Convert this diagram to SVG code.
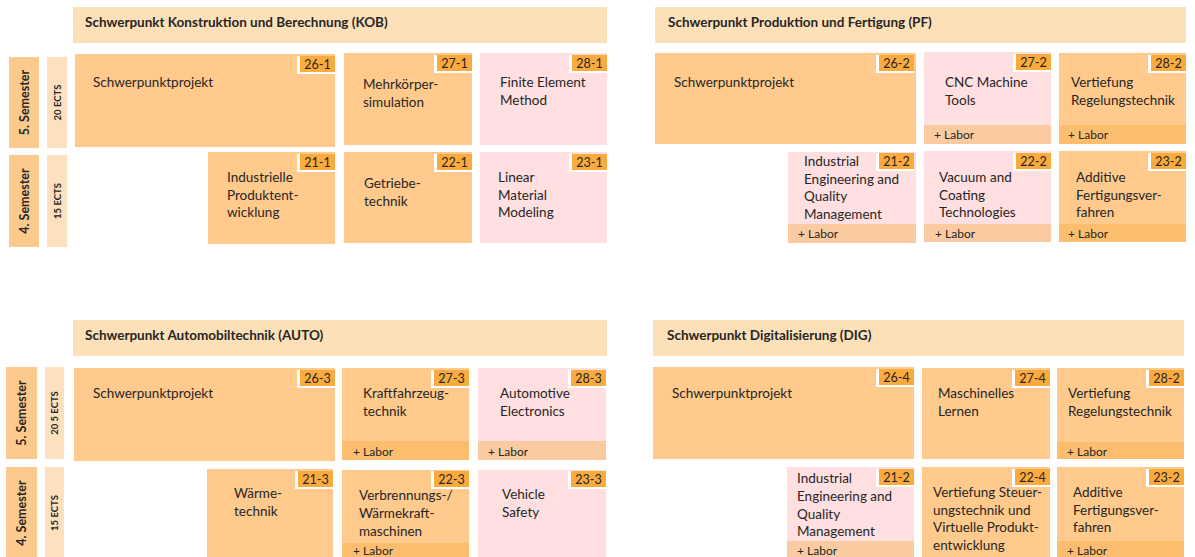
<svg xmlns="http://www.w3.org/2000/svg" width="1195" height="557" viewBox="0 0 1195 557">
<style>
text{font-family:Lato,"Open Sans","Liberation Sans",sans-serif;fill:#262626}
.hd{fill:#FDE0B8}
.hdt{font-size:13.5px;font-weight:bold}
.sem{fill:#FCCA8C}
.ects{fill:#FDE1BE}
.semt{font-size:12.5px;font-weight:bold;text-anchor:middle}
.ectt{font-size:9.5px;font-weight:bold;text-anchor:middle}
.o{fill:#FFCA8C}
.p{fill:#FFDFE0}
.lo{fill:#FCBE6E}
.lp{fill:#FACBA1}
.bw{fill:#FFFFFF}
.bd{fill:#FBAA3E}
.bt{font-size:12.5px;text-anchor:middle}
.t{font-size:13.5px}
.lt{font-size:12px}
</style>

<!-- headers -->
<g id="hdr-kob"><rect class="hd" x="73" y="7" width="534" height="36"/><text class="hdt" x="85" y="27">Schwerpunkt Konstruktion und Berechnung (KOB)</text></g>
<g id="hdr-pf"><rect class="hd" x="655" y="7" width="531" height="36"/><text class="hdt" x="668" y="27">Schwerpunkt Produktion und Fertigung (PF)</text></g>
<g id="hdr-auto"><rect class="hd" x="73" y="320" width="534" height="36"/><text class="hdt" x="85" y="340">Schwerpunkt Automobiltechnik (AUTO)</text></g>
<g id="hdr-dig"><rect class="hd" x="653" y="320" width="531" height="36"/><text class="hdt" x="667" y="340">Schwerpunkt Digitalisierung (DIG)</text></g>

<!-- semester labels -->
<g id="sem5-top"><rect class="sem" x="9" y="57" width="30" height="91"/><text class="semt" transform="translate(28.5,102.5) rotate(-90)">5.  Semester</text></g>
<g id="ects5-top"><rect class="ects" x="47" y="57" width="20" height="91"/><text class="ectt" transform="translate(60.5,102.5) rotate(-90)">20 ECTS</text></g>
<g id="sem4-top"><rect class="sem" x="9" y="155" width="30" height="92"/><text class="semt" transform="translate(28.5,201) rotate(-90)">4. Semester</text></g>
<g id="ects4-top"><rect class="ects" x="47" y="155" width="20" height="92"/><text class="ectt" transform="translate(60.5,201) rotate(-90)">15 ECTS</text></g>
<g id="sem5-bot"><rect class="sem" x="6" y="367" width="31" height="92"/><text class="semt" transform="translate(26,413) rotate(-90)">5.  Semester</text></g>
<g id="ects5-bot"><rect class="ects" x="45" y="367" width="19" height="92"/><text class="ectt" transform="translate(58,413) rotate(-90)">20 5 ECTS</text></g>
<g id="sem4-bot"><rect class="sem" x="6" y="467" width="31" height="92"/><text class="semt" transform="translate(26,513) rotate(-90)">4. Semester</text></g>
<g id="ects4-bot"><rect class="ects" x="45" y="467" width="19" height="92"/><text class="ectt" transform="translate(58,513) rotate(-90)">15  ECTS</text></g>

<!-- KOB -->
<g id="m26-1"><rect class="o" x="75" y="54" width="260" height="93"/><rect class="bw" x="297" y="56" width="38" height="18"/><rect class="bd" x="300" y="56" width="35" height="16"/><text class="bt" x="317.5" y="69">26-1</text><text class="t" x="93" y="87">Schwerpunktprojekt</text></g>
<g id="m27-1"><rect class="o" x="344" y="53" width="128" height="92"/><rect class="bw" x="434" y="55" width="38" height="18"/><rect class="bd" x="437" y="55" width="35" height="16"/><text class="bt" x="454.5" y="68">27-1</text><text class="t" x="363" y="89">Mehrkörper-</text><text class="t" x="363" y="107">simulation</text></g>
<g id="m28-1"><rect class="p" x="480" y="53" width="127" height="92"/><rect class="bw" x="569" y="55" width="38" height="18"/><rect class="bd" x="572" y="55" width="35" height="16"/><text class="bt" x="589.5" y="68">28-1</text><text class="t" x="500" y="87">Finite Element</text><text class="t" x="500" y="105">Method</text></g>
<g id="m21-1"><rect class="o" x="208" y="152" width="127" height="92"/><rect class="bw" x="297" y="154" width="38" height="18"/><rect class="bd" x="300" y="154" width="35" height="16"/><text class="bt" x="317.5" y="167">21-1</text><text class="t" x="227" y="182">Industrielle</text><text class="t" x="227" y="199.5">Produktent-</text><text class="t" x="227" y="217">wicklung</text></g>
<g id="m22-1"><rect class="o" x="344" y="152" width="128" height="91"/><rect class="bw" x="434" y="154" width="38" height="18"/><rect class="bd" x="437" y="154" width="35" height="16"/><text class="bt" x="454.5" y="167">22-1</text><text class="t" x="364" y="188">Getriebe-</text><text class="t" x="364" y="205.5">technik</text></g>
<g id="m23-1"><rect class="p" x="480" y="152" width="127" height="91"/><rect class="bw" x="569" y="154" width="38" height="18"/><rect class="bd" x="572" y="154" width="35" height="16"/><text class="bt" x="589.5" y="167">23-1</text><text class="t" x="498" y="182">Linear</text><text class="t" x="498" y="199.5">Material</text><text class="t" x="498" y="217">Modeling</text></g>

<!-- PF -->
<g id="m26-2"><rect class="o" x="655" y="53" width="261" height="91"/><rect class="bw" x="876" y="55" width="38" height="18"/><rect class="bd" x="879" y="55" width="35" height="16"/><text class="bt" x="896.5" y="68">26-2</text><text class="t" x="674" y="87">Schwerpunktprojekt</text></g>
<g id="m27-2"><rect class="p" x="924" y="52" width="127" height="92"/><rect class="lp" x="924" y="125" width="127" height="19"/><rect class="bw" x="1013" y="54" width="38" height="18"/><rect class="bd" x="1016" y="54" width="35" height="16"/><text class="bt" x="1033.5" y="67">27-2</text><text class="t" x="945" y="87">CNC Machine</text><text class="t" x="945" y="105">Tools</text><text class="lt" x="934" y="139">+ Labor</text></g>
<g id="m28-2a"><rect class="o" x="1059" y="53" width="127" height="91"/><rect class="lo" x="1059" y="125" width="127" height="19"/><rect class="bw" x="1148" y="55" width="38" height="18"/><rect class="bd" x="1151" y="55" width="35" height="16"/><text class="bt" x="1168.5" y="68">28-2</text><text class="t" x="1071" y="87">Vertiefung</text><text class="t" x="1071" y="105">Regelungstechnik</text><text class="lt" x="1068" y="139">+ Labor</text></g>
<g id="m21-2a"><rect class="p" x="788" y="152" width="128" height="91"/><rect class="lp" x="788" y="224" width="128" height="19"/><rect class="bw" x="876" y="153" width="38" height="18"/><rect class="bd" x="879" y="153" width="35" height="16"/><text class="bt" x="896.5" y="166">21-2</text><text class="t" x="804" y="166">Industrial</text><text class="t" x="804" y="183.5">Engineering and</text><text class="t" x="804" y="201">Quality</text><text class="t" x="804" y="218.5">Management</text><text class="lt" x="798" y="238">+ Labor</text></g>
<g id="m22-2"><rect class="p" x="924" y="151" width="127" height="91"/><rect class="lp" x="924" y="224" width="127" height="18"/><rect class="bw" x="1013" y="153" width="38" height="18"/><rect class="bd" x="1016" y="153" width="35" height="16"/><text class="bt" x="1033.5" y="166">22-2</text><text class="t" x="939" y="182">Vacuum and</text><text class="t" x="939" y="199.5">Coating</text><text class="t" x="939" y="217">Technologies</text><text class="lt" x="935" y="238">+ Labor</text></g>
<g id="m23-2a"><rect class="o" x="1059" y="151" width="127" height="91"/><rect class="lo" x="1059" y="224" width="127" height="18"/><rect class="bw" x="1148" y="153" width="38" height="18"/><rect class="bd" x="1151" y="153" width="35" height="16"/><text class="bt" x="1168.5" y="166">23-2</text><text class="t" x="1076" y="182">Additive</text><text class="t" x="1076" y="199.5">Fertigungsver-</text><text class="t" x="1076" y="217">fahren</text><text class="lt" x="1068" y="238">+ Labor</text></g>

<!-- AUTO -->
<g id="m26-3"><rect class="o" x="74" y="368" width="261" height="93"/><rect class="bw" x="297" y="370" width="38" height="18"/><rect class="bd" x="300" y="370" width="35" height="16"/><text class="bt" x="317.5" y="383">26-3</text><text class="t" x="93" y="398">Schwerpunktprojekt</text></g>
<g id="m27-3"><rect class="o" x="342" y="368" width="127" height="92"/><rect class="lo" x="342" y="441" width="127" height="19"/><rect class="bw" x="431" y="370" width="38" height="18"/><rect class="bd" x="434" y="370" width="35" height="16"/><text class="bt" x="451.5" y="383">27-3</text><text class="t" x="363" y="398">Kraftfahrzeug-</text><text class="t" x="363" y="416">technik</text><text class="lt" x="353" y="456">+ Labor</text></g>
<g id="m28-3"><rect class="p" x="478" y="368" width="128" height="92"/><rect class="lp" x="478" y="441" width="128" height="19"/><rect class="bw" x="568" y="370" width="38" height="18"/><rect class="bd" x="571" y="370" width="35" height="16"/><text class="bt" x="588.5" y="383">28-3</text><text class="t" x="500" y="398">Automotive</text><text class="t" x="500" y="416">Electronics</text><text class="lt" x="488" y="456">+ Labor</text></g>
<g id="m21-3"><rect class="o" x="207" y="469" width="126" height="90"/><rect class="bw" x="295" y="471" width="38" height="18"/><rect class="bd" x="298" y="471" width="35" height="16"/><text class="bt" x="315.5" y="484">21-3</text><text class="t" x="234" y="498">Wärme-</text><text class="t" x="234" y="516">technik</text></g>
<g id="m22-3"><rect class="o" x="342" y="470" width="127" height="89"/><rect class="lo" x="342" y="543" width="127" height="16"/><rect class="bw" x="431" y="471" width="38" height="18"/><rect class="bd" x="434" y="471" width="35" height="16"/><text class="bt" x="451.5" y="484">22-3</text><text class="t" x="359" y="500">Verbrennungs-/</text><text class="t" x="359" y="518">Wärmekraft-</text><text class="t" x="359" y="536">maschinen</text><text class="lt" x="353" y="555">+ Labor</text></g>
<g id="m23-3"><rect class="p" x="478" y="470" width="128" height="89"/><rect class="bw" x="568" y="471" width="38" height="18"/><rect class="bd" x="571" y="471" width="35" height="16"/><text class="bt" x="588.5" y="484">23-3</text><text class="t" x="502" y="499">Vehicle</text><text class="t" x="502" y="517">Safety</text></g>

<!-- DIG -->
<g id="m26-4"><rect class="o" x="653" y="367" width="261" height="92"/><rect class="bw" x="876" y="369" width="38" height="18"/><rect class="bd" x="879" y="369" width="35" height="16"/><text class="bt" x="896.5" y="382">26-4</text><text class="t" x="672" y="398">Schwerpunktprojekt</text></g>
<g id="m27-4"><rect class="o" x="922" y="368" width="128" height="91"/><rect class="bw" x="1012" y="370" width="38" height="18"/><rect class="bd" x="1015" y="370" width="35" height="16"/><text class="bt" x="1032.5" y="383">27-4</text><text class="t" x="938" y="398">Maschinelles</text><text class="t" x="938" y="416">Lernen</text></g>
<g id="m28-2b"><rect class="o" x="1057" y="368" width="127" height="91"/><rect class="lo" x="1057" y="442" width="127" height="17"/><rect class="bw" x="1146" y="370" width="38" height="18"/><rect class="bd" x="1149" y="370" width="35" height="16"/><text class="bt" x="1166.5" y="383">28-2</text><text class="t" x="1068" y="398">Vertiefung</text><text class="t" x="1068" y="416">Regelungstechnik</text><text class="lt" x="1067" y="456">+ Labor</text></g>
<g id="m21-2b"><rect class="p" x="787" y="467" width="127" height="92"/><rect class="lp" x="787" y="541" width="127" height="18"/><rect class="bw" x="876" y="469" width="38" height="18"/><rect class="bd" x="879" y="469" width="35" height="16"/><text class="bt" x="896.5" y="482">21-2</text><text class="t" x="797" y="483">Industrial</text><text class="t" x="797" y="501">Engineering and</text><text class="t" x="797" y="518.5">Quality</text><text class="t" x="797" y="536">Management</text><text class="lt" x="797" y="555">+ Labor</text></g>
<g id="m22-4"><rect class="o" x="922" y="467" width="128" height="92"/><rect class="bw" x="1012" y="469" width="38" height="18"/><rect class="bd" x="1015" y="469" width="35" height="16"/><text class="bt" x="1032.5" y="482">22-4</text><text class="t" x="933" y="497">Vertiefung Steuer-</text><text class="t" x="933" y="514.5">ungstechnik und</text><text class="t" x="933" y="532">Virtuelle Produkt-</text><text class="t" x="933" y="549.5">entwicklung</text></g>
<g id="m23-2b"><rect class="o" x="1057" y="467" width="127" height="92"/><rect class="lo" x="1057" y="541" width="127" height="18"/><rect class="bw" x="1146" y="469" width="38" height="18"/><rect class="bd" x="1149" y="469" width="35" height="16"/><text class="bt" x="1166.5" y="482">23-2</text><text class="t" x="1073" y="497">Additive</text><text class="t" x="1073" y="514.5">Fertigungsver-</text><text class="t" x="1073" y="532">fahren</text><text class="lt" x="1067" y="555">+ Labor</text></g>

<g id="connectors"></g>
</svg>
